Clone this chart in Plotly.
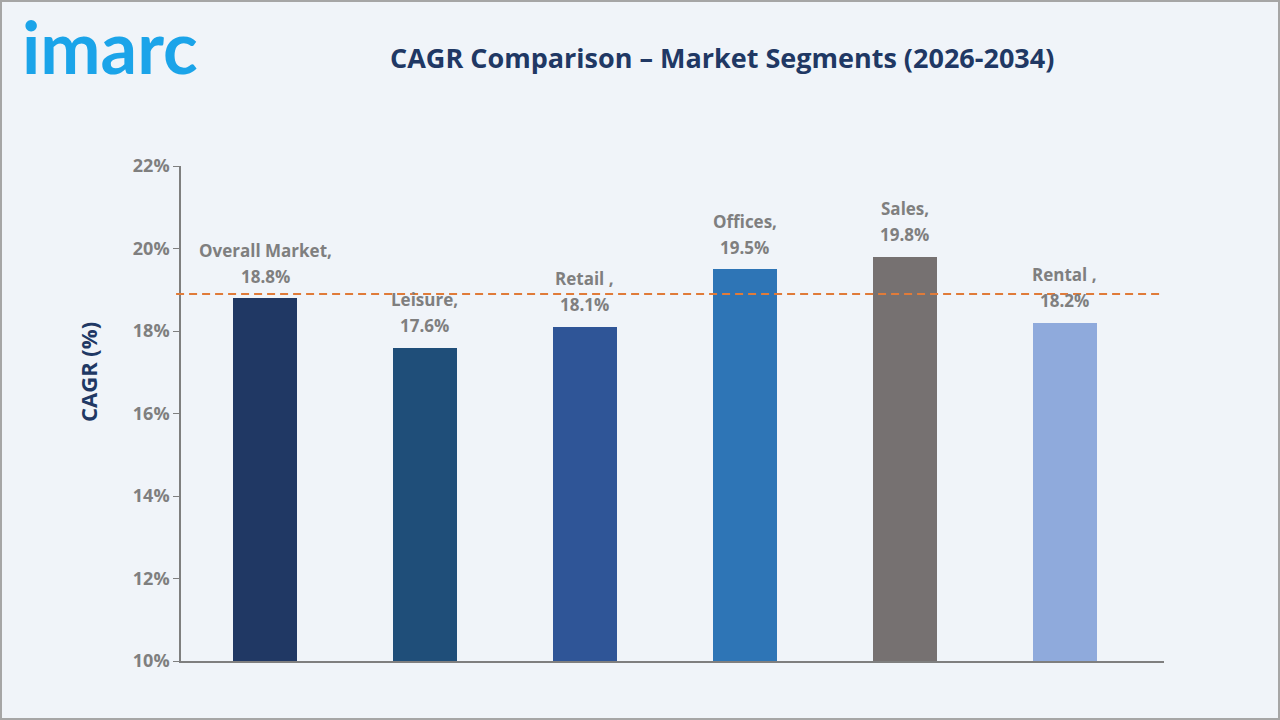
import plotly.graph_objects as go

categories = ["Overall Market", "Leisure", "Retail", "Offices", "Sales", "Rental"]
label_names = ["Overall Market,", "Leisure,", "Retail ,", "Offices,", "Sales,", "Rental ,"]
cagr = [18.8, 17.6, 18.1, 19.5, 19.8, 18.2]
bar_colors = ["#203864", "#1F4E79", "#2F5597", "#2E75B6", "#767171", "#8FAADC"]
reference_line = 18.9
y_ticks = [10, 12, 14, 16, 18, 20, 22]
y_tick_text = ["10%", "12%", "14%", "16%", "18%", "20%", "22%"]

W, H = 1280, 720
ml, mr, mt, mb = 181, 116, 166, 59
pw, ph = W - ml - mr, H - mt - mb

FONT = "Open Sans"
GRAY = "#7F7F7F"
NAVY = "#203864"
BG = "#F0F4F9"

fig = go.Figure()
fig.add_trace(go.Bar(
    x=list(range(len(categories))), y=cagr,
    marker=dict(color=bar_colors, line=dict(width=0)),
    width=0.4, hoverinfo="skip", showlegend=False,
    base=0,
))

lab_font = dict(family=FONT, size=17, color=GRAY, weight="bold")
for i, (name, v) in enumerate(zip(label_names, cagr)):
    fig.add_annotation(
        x=i, y=v, xref="x", yref="y", text=f"{v:.1f}%",
        showarrow=False, yanchor="middle", yshift=22, font=lab_font,
    )
    fig.add_annotation(
        x=i, y=v, xref="x", yref="y", text=name,
        showarrow=False, yanchor="middle", yshift=48, font=lab_font,
    )

fig.add_shape(type="line", xref="paper", yref="y", x0=-0.005, x1=1.0,
              y0=reference_line, y1=reference_line,
              line=dict(color="#E07B39", width=2, dash="8px,5px"))

# outer border
fig.add_shape(type="rect", xref="paper", yref="paper",
              x0=-(ml - 1) / pw, x1=(W - ml - 1) / pw,
              y0=-(mb - 1) / ph, y1=1 + (mt - 1) / ph,
              line=dict(color="#A6A6A6", width=2), layer="below")

fig.add_annotation(
    x=(722 - ml) / pw, y=1 + (166 - 58) / ph, xref="paper", yref="paper",
    text="CAGR Comparison – Market Segments (2026-2034)", showarrow=False,
    font=dict(family=FONT, size=27, color=NAVY, weight="bold"),
    xanchor="center", yanchor="middle",
)
fig.add_annotation(
    x=(110 - ml) / pw, y=1 + (166 - 46) / ph, xref="paper", yref="paper",
    text="imarc", showarrow=False,
    font=dict(family="Lato", size=72, color="#1BA4E9", weight="bold"),
    xanchor="center", yanchor="middle",
)
fig.add_annotation(
    x=(88 - ml) / pw, y=(661 - 372) / ph, xref="paper", yref="paper",
    text="CAGR (%)", showarrow=False, textangle=-90,
    font=dict(family=FONT, size=22, color=NAVY, weight="bold"),
    xanchor="center", yanchor="middle",
)

fig.update_layout(
    width=W, height=H,
    margin=dict(l=ml, r=mr, t=mt, b=mb),
    paper_bgcolor=BG, plot_bgcolor=BG,
    font=dict(family=FONT),
    xaxis=dict(range=[-0.525, 5.619], showticklabels=False, showgrid=False,
               zeroline=False, showline=True, linecolor=GRAY, linewidth=1.5,
               ticks=""),
    yaxis=dict(range=[10, 22], tickvals=y_ticks, ticktext=y_tick_text,
               showgrid=False, zeroline=False, showline=True, linecolor=GRAY,
               linewidth=1.5, ticks="outside", ticklen=6, tickcolor=GRAY,
               tickfont=dict(family=FONT, size=18, color=GRAY, weight="bold")),
    bargap=0,
)

fig.write_html("out.html")
